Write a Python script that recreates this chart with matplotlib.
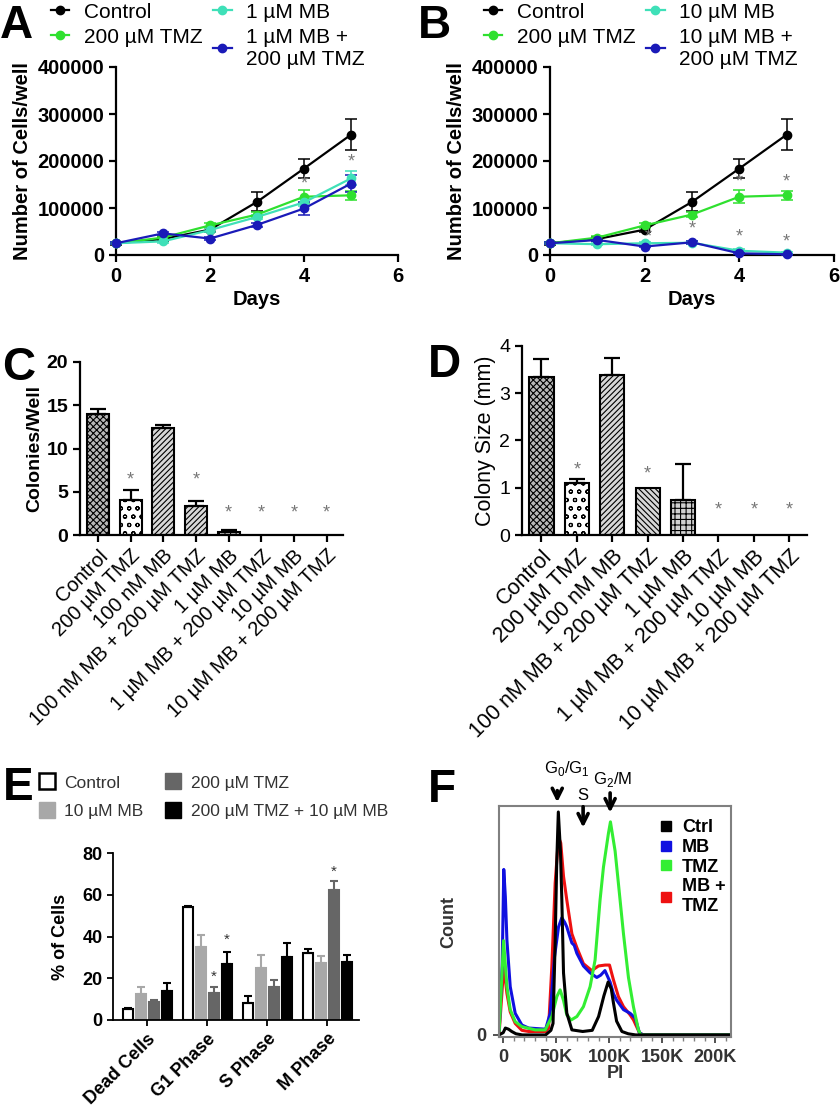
import matplotlib
matplotlib.use("Agg")
import matplotlib.pyplot as plt
from matplotlib.lines import Line2D
import numpy as np

plt.rcParams['font.family'] = ['Liberation Sans', 'DejaVu Sans']
plt.rcParams['mathtext.fontset'] = 'custom'
plt.rcParams['mathtext.rm'] = 'Liberation Sans'
plt.rcParams['hatch.linewidth'] = 0.8

# ---- A / B : growth curves ----
days = [0, 1, 2, 3, 4, 5]
ctrl = [25000, 34000, 54000, 113000, 184000, 256000]
ctrl_err = [3000, 4000, 6000, 20000, 21000, 33000]
tmz = [25000, 37000, 63000, 86000, 124000, 127000]
tmz_err = [2000, 3000, 5000, 6000, 14000, 10000]
mb1 = [25000, 29000, 53000, 81000, 112000, 163000]
mb1_err = [2000, 3000, 4000, 5000, 8000, 15000]
mb1_tmz = [25000, 46000, 35000, 64000, 99000, 152000]
mb1_tmz_err = [2000, 3000, 3000, 5000, 13000, 18000]
mb10 = [25000, 23000, 25000, 26000, 9000, 5000]
mb10_err = [2000, 2000, 2000, 3000, 3000, 2000]
mb10_tmz = [25000, 32000, 18000, 27000, 3500, 1500]
mb10_tmz_err = [2000, 3000, 2000, 3000, 2000, 1000]
stars_a = [(4, 152000), (5, 198000)]
stars_b = [(2.07, 37500), (3, 54500), (4, 156000), (4, 37500), (5, 156000), (5, 28000)]

# ---- C / D : colony assays ----
c_labels = ['Control', '200 µM TMZ', '100 nM MB', '100 nM MB + 200 µM TMZ',
            '1 µM MB', '1 µM MB + 200 µM TMZ', '10 µM MB', '10 µM MB + 200 µM TMZ']
colonies = [14.0, 4.0, 12.4, 3.35, 0.3, 0, 0, 0]
colonies_err = [0.6, 1.2, 0.3, 0.6, 0.3, 0, 0, 0]
colonies_star = [None, 6.4, None, 6.4, 2.5, 2.5, 2.5, 2.5]
size_mm = [3.35, 1.1, 3.38, 0.99, 0.75, 0, 0, 0]
size_err = [0.38, 0.08, 0.37, 0.0, 0.75, 0, 0, 0]
size_star = [None, 1.37, None, 1.29, None, 0.54, 0.54, 0.54]

# ---- E : cell cycle ----
phases = ['Dead Cells', 'G1 Phase', 'S Phase', 'M Phase']
e_ctrl = [5.3, 53.9, 8.3, 31.9]
e_ctrl_err = [0.5, 0.7, 3.0, 1.9]
e_mb = [12.5, 35.0, 24.7, 27.4]
e_mb_err = [3.5, 5.5, 6.2, 3.2]
e_tmz = [8.4, 13.0, 15.9, 62.2]
e_tmz_err = [1.3, 2.6, 3.5, 4.4]
e_combo = [13.9, 27.0, 30.3, 27.9]
e_combo_err = [3.6, 5.7, 6.7, 3.1]
e_stars = [(1, 2, 20.5), (1, 3, 38.5), (3, 2, 71)]

# ---- F : PI histograms ----
f_ctrl_x = [-4000, 0, 2000, 5000, 8000, 12000, 18000, 40000, 45000, 47000, 49000, 50500, 52000,
            54000, 55300, 56900, 60000, 64800, 75000, 84000, 90000, 95000, 99000, 102000,
            104000, 107000, 112000, 118000, 125000, 215000]
f_ctrl_y = [0, 1, 3, 2.5, 1.5, 0.5, 0, 0, 2, 5, 40, 75, 97, 80, 59, 27, 9.5, 2.2, 1.5, 2, 8,
            17, 23, 20, 14, 6, 1.5, 0.5, 0, 0]
f_mb_x = [-3800, -1000, 500, 2000, 3500, 6600, 11300, 17600, 24000, 40000, 44300, 48400, 52200,
          55300, 58000, 60000, 62000, 64800, 67000, 69500, 75700, 82000, 88300, 92000, 96000,
          100900, 104000, 107200, 113500, 119800, 124500, 128500, 132000, 215000]
f_mb_y = [2, 30, 72, 60, 41, 21, 9.4, 4.3, 3, 2.5, 9.4, 34, 47, 51, 49, 47, 44, 40, 39, 35.5,
          30, 27, 25, 26, 28, 23, 18, 15, 11, 9.4, 7.4, 1, 0, 0]
f_tmz_x = [-3800, 300, 3500, 6600, 11300, 17600, 30200, 39600, 45900, 50600, 53700, 56900,
           60000, 64100, 69500, 75700, 82000, 86700, 91400, 94600, 99300, 101200, 105600,
           108700, 113500, 118200, 122900, 127600, 129900, 215000]
f_tmz_y = [2, 41, 21, 11, 5.8, 3.6, 2.2, 2.2, 8, 16.7, 19.6, 15, 8.7, 6.5, 8, 12.3, 21, 32.6,
           58.7, 73, 87.7, 92.7, 80, 66, 44, 25, 12.3, 2.2, 0, 0]
f_combo_x = [-3800, 500, 3500, 6600, 11300, 17600, 24000, 40000, 42800, 45900, 49000, 52200,
             54300, 56900, 60000, 64800, 69500, 75700, 83600, 89900, 96200, 100300, 104000,
             108700, 113500, 119800, 123000, 128500, 132000, 215000]
f_combo_y = [1, 30, 18, 10, 5, 2, 1.5, 1.5, 3, 30, 66, 86, 83.5, 69, 58.7, 44, 38, 31, 28, 30,
             30.4, 30.4, 24, 16.7, 12.3, 8.7, 6.5, 1, 0, 0]

GREEN = '#2fe02f'
TURQ = '#3fe0b8'
BLUE = '#1a1ab8'


def box(l, t, r, b):
    return [l / 840, 1 - b / 1110, (r - l) / 840, (b - t) / 1110]


def clean(ax, lw=1.6):
    for s in ['top', 'right']:
        ax.spines[s].set_visible(False)
    for s in ['left', 'bottom']:
        ax.spines[s].set_linewidth(lw)


fig = plt.figure(figsize=(8.4, 11.1), dpi=100)


def growth(rect, series, stars, legx):
    ax = fig.add_axes(box(*rect))
    handles = []
    for vals, errs, col, lab in series:
        ax.errorbar(days, vals, yerr=errs, color=col, marker='o', ms=6, lw=1.6,
                    elinewidth=1.1, capsize=4, capthick=1.1, clip_on=False, zorder=3)
        handles.append(Line2D([], [], color=col, marker='o', ms=6, lw=1.6))
    for x, y in stars:
        ax.text(x, y, '*', color='#777777', fontsize=13, ha='center', va='center', zorder=6)
    ax.set_xlim(0, 6)
    ax.set_ylim(0, 400000)
    ax.set_yticks([0, 100000, 200000, 300000, 400000])
    ax.set_yticklabels(['0', '100000', '200000', '300000', '400000'])
    clean(ax)
    ax.tick_params(labelsize=14.5, width=1.6, length=5)
    for t in ax.get_xticklabels() + ax.get_yticklabels():
        t.set_fontweight('bold')
    ax.set_xlabel('Days', fontsize=14.5, fontweight='bold', labelpad=3)
    ax.set_ylabel('Number of Cells/well', fontsize=14.5, fontweight='bold', labelpad=4)
    fig.legend(handles, [s[3] for s in series], ncol=2, loc='upper left',
               bbox_to_anchor=(legx / 840, 1 + 10 / 1110), frameon=False, fontsize=15,
               handlelength=0.9, handletextpad=0.7, labelspacing=0.3,
               columnspacing=0.5, borderpad=0.1)
    return ax


growth((116, 67, 398, 255),
       [(ctrl, ctrl_err, 'black', 'Control'), (tmz, tmz_err, GREEN, '200 µM TMZ'),
        (mb1, mb1_err, TURQ, '1 µM MB'), (mb1_tmz, mb1_tmz_err, BLUE, '1 µM MB +\n200 µM TMZ')],
       stars_a, 38)
growth((550, 67, 834, 255),
       [(ctrl, ctrl_err, 'black', 'Control'), (tmz, tmz_err, GREEN, '200 µM TMZ'),
        (mb10, mb10_err, TURQ, '10 µM MB'), (mb10_tmz, mb10_tmz_err, BLUE, '10 µM MB +\n200 µM TMZ')],
       stars_b, 471)


def colony(rect, vals, errs, stars, faces, hatches, ylim, yticks, ylabel, bold, lab_fs):
    ax = fig.add_axes(box(*rect))
    x = np.arange(len(vals))
    for i in range(len(vals)):
        if vals[i] > 0:
            ax.bar(x[i], vals[i], width=0.68, color=faces[i], edgecolor='black',
                   linewidth=1.5, hatch=hatches[i], zorder=2)
            if errs[i] > 0:
                ax.errorbar(x[i], vals[i], yerr=[[0], [errs[i]]], color='black',
                            elinewidth=1.6, capsize=6, capthick=1.6, zorder=3)
        if stars[i] is not None:
            ax.text(x[i], stars[i], '*', color='#777777', fontsize=13, ha='center', va='center')
    ax.set_xlim(-0.55, 7.5)
    ax.set_ylim(*ylim)
    ax.set_yticks(yticks)
    ax.set_xticks(x)
    ax.set_xticklabels(c_labels, rotation=45, ha='right', rotation_mode='anchor',
                       fontsize=lab_fs)
    clean(ax)
    ax.tick_params(axis='y', labelsize=14, width=1.6, length=5)
    ax.tick_params(axis='x', width=1.6, length=5, pad=3)
    if bold:
        for t in ax.get_yticklabels():
            t.set_fontweight('bold')
    ax.set_ylabel(ylabel, fontsize=14 if bold else 15.5,
                  fontweight='bold' if bold else 'normal', labelpad=2)
    return ax


faces = ['#b8b8b8', 'white', '#d8d8d8', '#d8d8d8', '#d0d0d0', 'white', 'white', 'white']
colony((80, 362, 343, 535), colonies, colonies_err, colonies_star, faces,
       ['xxxxx', 'oo', '//////', '//////', '+++', '', '', ''], (0, 20), [0, 5, 10, 15, 20],
       'Colonies/Well', True, 14.5)
colony((522, 346, 807, 535), size_mm, size_err, size_star, faces,
       ['xxxxx', 'oo', '//////', '\\\\\\\\\\\\', '+++', '', '', ''], (0, 4), [0, 1, 2, 3, 4],
       'Colony Size (mm)', False, 15.5)

# ---- E ----
axe = fig.add_axes(box(113, 853, 359, 1020))
gx = np.arange(len(phases))
e_series = [(e_ctrl, e_ctrl_err, 'white', 'black'), (e_mb, e_mb_err, '#a8a8a8', '#a8a8a8'),
            (e_tmz, e_tmz_err, '#666666', '#666666'), (e_combo, e_combo_err, 'black', 'black')]
offs = [-1.5, -0.5, 0.5, 1.5]
for k, (vals, errs, fc, ec) in enumerate(e_series):
    xs = gx + offs[k] * 0.217
    axe.bar(xs, vals, width=0.17, color=fc, edgecolor=ec, linewidth=1.5, zorder=2)
    axe.errorbar(xs, vals, yerr=[np.zeros(4), errs], fmt='none', ecolor=ec, elinewidth=1.5,
                 capsize=3, capthick=1.5, zorder=3)
for g, k, y in e_stars:
    axe.text(g + offs[k] * 0.217, y, '*', color='#333333', fontsize=11, ha='center', va='center')
axe.set_xlim(-0.57, 3.53)
axe.set_ylim(0, 80)
axe.set_yticks([0, 20, 40, 60, 80])
axe.set_xticks(gx)
axe.set_xticklabels(phases, rotation=45, ha='right', rotation_mode='anchor', fontsize=13,
                    fontweight='bold')
clean(axe, 1.3)
axe.tick_params(axis='y', labelsize=13, width=1.3, length=4)
axe.tick_params(axis='x', width=1.3, length=4)
for t in axe.get_yticklabels():
    t.set_fontweight('bold')
axe.set_ylabel('% of Cells', fontsize=13, fontweight='bold', labelpad=10)
e_handles = [Line2D([], [], ls='none', marker='s', ms=11, mfc='white', mec='black', mew=1.8),
             Line2D([], [], ls='none', marker='s', ms=11, mfc='#a8a8a8', mec='#a8a8a8'),
             Line2D([], [], ls='none', marker='s', ms=11, mfc='#666666', mec='#666666'),
             Line2D([], [], ls='none', marker='s', ms=11, mfc='black', mec='black')]
fig.legend(e_handles, ['Control', '10 µM MB', '200 µM TMZ', '200 µM TMZ + 10 µM MB'], ncol=2,
           loc='upper left', bbox_to_anchor=(28 / 840, 1 - 765 / 1110), frameon=False,
           fontsize=12.5, handlelength=1.0, handletextpad=0.5, labelspacing=0.75,
           columnspacing=1.2, borderpad=0.1, labelcolor='#333333')

# ---- F ----
axf = fig.add_axes(box(499, 806, 731, 1037))
for xs, ys, col in [(f_combo_x, f_combo_y, '#ee1111'), (f_mb_x, f_mb_y, '#1010e0'),
                    (f_tmz_x, f_tmz_y, '#33ee33'), (f_ctrl_x, f_ctrl_y, 'black')]:
    axf.plot(xs, ys, color=col, lw=2.2)
axf.set_xlim(-4000, 215000)
axf.set_ylim(-0.9, 99.6)
axf.set_xticks([0, 50000, 100000, 150000, 200000])
axf.set_xticklabels(['0', '50K', '100K', '150K', '200K'])
axf.set_xticks(np.arange(0, 210001, 10000), minor=True)
axf.set_yticks([0])
for s in axf.spines.values():
    s.set_color('#808080')
    s.set_linewidth(1.5)
axf.tick_params(labelsize=13, colors='#333333', width=1.2, length=4, pad=5)
axf.tick_params(which='minor', length=3, width=1, colors='#808080')
for t in axf.get_xticklabels() + axf.get_yticklabels():
    t.set_fontweight('bold')
axf.set_xlabel('PI', fontsize=13, fontweight='bold', color='#333333', labelpad=-1)
axf.set_ylabel('Count', fontsize=13, fontweight='bold', color='#333333', labelpad=14)
for x0, y0, y1 in [(51000, 107.5, 100), (75400, 100.5, 89), (100900, 106.5, 95.5)]:
    axf.annotate('', xy=(x0, y1), xytext=(x0, y0), xycoords='data',
                 arrowprops=dict(arrowstyle='->', lw=2.6, color='black', mutation_scale=18),
                 annotation_clip=False)
axf.text(60400, 116, r'G$_\mathregular{0}$/G$_\mathregular{1}$', fontsize=12, ha='center',
         va='center')
axf.text(75400, 104, 'S', fontsize=12, ha='center', va='center')
axf.text(103000, 111, r'G$_\mathregular{2}$/M', fontsize=12, ha='center', va='center')
f_handles = [Line2D([], [], ls='none', marker='s', ms=7, color=c)
             for c in ['black', '#1010e0', '#33ee33', '#ee1111']]
axf.legend(f_handles, ['Ctrl', 'MB', 'TMZ', 'MB +\nTMZ'], loc='upper left',
           bbox_to_anchor=(0.64, 0.99), frameon=False, handlelength=0.8,
           handletextpad=0.5, labelspacing=0.15, borderpad=0.1,
           prop={'weight': 'bold', 'size': 13})

# panel letters
for lab, x, y in [('A', 0, 38), ('B', 418, 38), ('C', 2, 380), ('D', 428, 377),
                  ('E', 3, 800), ('F', 428, 802)]:
    fig.text(x / 840, 1 - y / 1110, lab, fontsize=33, fontweight='bold', ha='left', va='baseline')

fig.savefig('out.png', dpi=100)
